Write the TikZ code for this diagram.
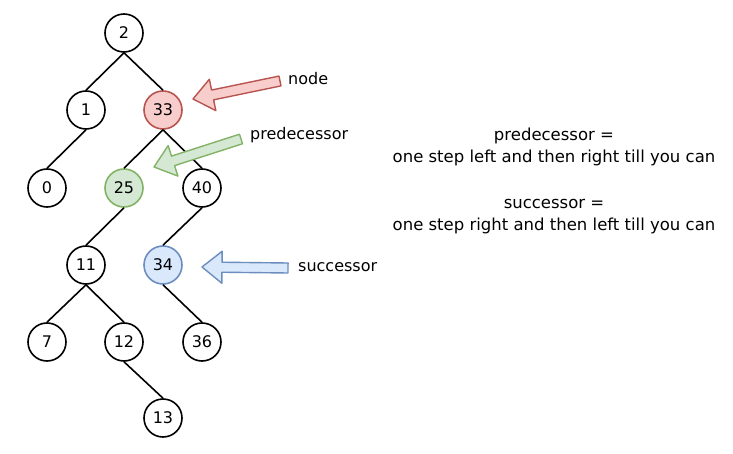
\documentclass[tikz,border=0pt]{standalone}
\usepackage{fontspec}
\setmainfont{DejaVu Sans}
\usepackage{xcolor}
\usepackage{tikz}
\usetikzlibrary{calc}

\definecolor{redfill}{HTML}{F8CECC}
\definecolor{redline}{HTML}{B85450}
\definecolor{greenfill}{HTML}{D5E8D4}
\definecolor{greenline}{HTML}{82B366}
\definecolor{bluefill}{HTML}{DAE8FC}
\definecolor{blueline}{HTML}{6C8EBF}

\tikzset{
  vertex/.style={draw, circle, minimum size=38pt, inner sep=0pt, line width=1.6pt,
    fill=white, font=\fontsize{16}{18}\selectfont},
  edge/.style={line width=1.6pt},
  lbl/.style={inner sep=0pt, anchor=west, font=\fontsize{16}{18}\selectfont},
  note/.style={align=center, font=\fontsize{16.5}{22}\selectfont},
  redarrow/.style={draw=redline, fill=redfill, line width=1.4pt, line join=round},
  greenarrow/.style={draw=greenline, fill=greenfill, line width=1.4pt, line join=round},
  bluearrow/.style={draw=blueline, fill=bluefill, line width=1.4pt, line join=round}
}

% block arrow: style, tail, tip
\newcommand{\blockarrow}[3]{%
  \draw[#1] ($(#2)!5pt!90:(#3)$) -- ($(#3)!20pt!(#2)!5pt!90:(#3)$)
    -- ($(#3)!20pt!(#2)!16pt!90:(#3)$) -- (#3)
    -- ($(#3)!20pt!(#2)!16pt!-90:(#3)$) -- ($(#3)!20pt!(#2)!5pt!-90:(#3)$)
    -- ($(#2)!5pt!-90:(#3)$) -- cycle;}

\begin{document}
\begin{tikzpicture}[x=1pt, y=-1pt]
\useasboundingbox (0,0) rectangle (733,454);

% tree
\node[vertex] (n2) at (124,33) {2};
\node[vertex] (n1) at (86,110) {1};
\node[vertex, fill=redfill, draw=redline] (n33) at (163,110) {33};
\node[vertex] (n0) at (47,188) {0};
\node[vertex, fill=greenfill, draw=greenline] (n25) at (124,188) {25};
\node[vertex] (n40) at (202,188) {40};
\node[vertex] (n11) at (86,265) {11};
\node[vertex, fill=bluefill, draw=blueline] (n34) at (163,265) {34};
\node[vertex] (n7) at (47,342) {7};
\node[vertex] (n12) at (124,342) {12};
\node[vertex] (n36) at (202,342) {36};
\node[vertex] (n13) at (163,418) {13};

\draw[edge] (n2.south) -- (n1.north);
\draw[edge] (n2.south) -- (n33.north);
\draw[edge] (n1.south) -- (n0.north);
\draw[edge] (n33.south) -- (n25.north);
\draw[edge] (n33.south) -- (n40.north);
\draw[edge] (n25.south) -- (n11.north);
\draw[edge] (n40.south) -- (n34.north);
\draw[edge] (n11.south) -- (n7.north);
\draw[edge] (n11.south) -- (n12.north);
\draw[edge] (n34.south) -- (n36.north);
\draw[edge] (n12.south) -- (n13.north);

% pointers
\node[lbl] (nodelbl) at (288,79) {node};
\node[lbl] (predlbl) at (250,135) {predecessor};
\node[lbl] (succlbl) at (298,267) {successor};

\coordinate (nodetail) at ($(nodelbl.west)+(-8,2)$);
\coordinate (predtail) at ($(predlbl.west)+(-9,4)$);
\coordinate (succtail) at ($(succlbl.west)+(-10,1)$);
\coordinate (nodetip) at ($(n33)+(30,-11)$);
\coordinate (predtip) at ($(n25)+(30,-21)$);
\coordinate (succtip) at ($(n34)+(39,2)$);

\blockarrow{redarrow}{nodetail}{nodetip}
\blockarrow{greenarrow}{predtail}{predtip}
\blockarrow{bluearrow}{succtail}{succtip}

% rules
\node[note] (prednote) at (554,147) {predecessor =\\one step left and then right till you can};
\node[note] (succnote) at (554,217) {successor =\\one step right and then left till you can};
\end{tikzpicture}
\end{document}
